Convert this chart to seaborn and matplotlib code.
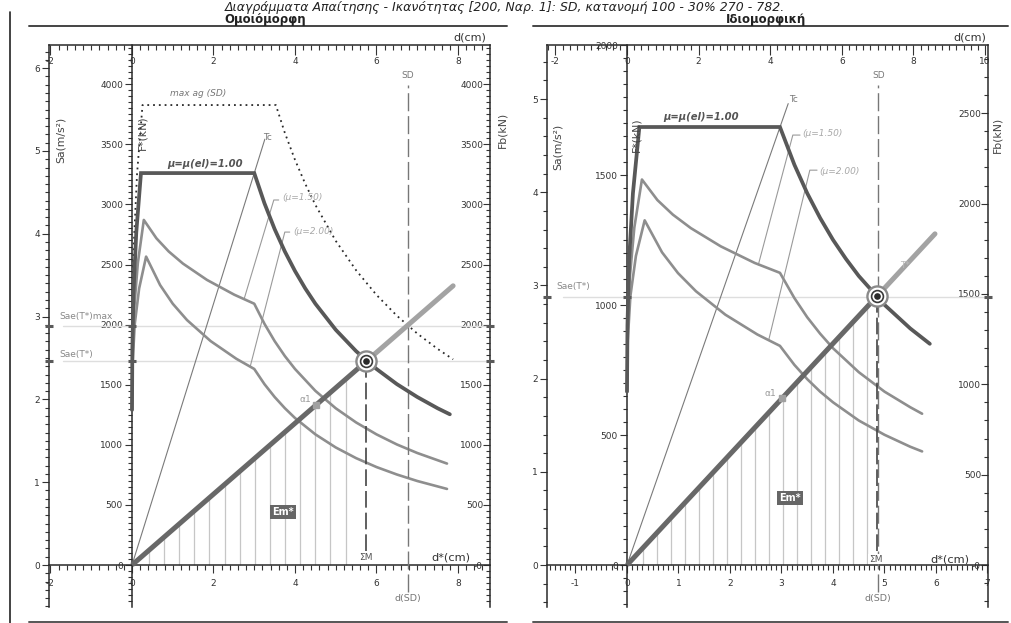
import numpy as np
import matplotlib
matplotlib.use("Agg")
import matplotlib.pyplot as plt
from matplotlib.lines import Line2D
from matplotlib.ticker import MultipleLocator
from matplotlib.transforms import Affine2D
import seaborn as sns

# ---------------------------------------------------------------------------
# Uniform load pattern (Ομοιόμορφη): d* in cm, F* in kN
# ---------------------------------------------------------------------------
uni_gamma = 1.0            # Γ  (d = Γ·d*, Fb = Γ·F*)
uni_mstar = 689.0          # m* in t  (Sa = F*/m*)
uni_el_d = [0.0, 0.008, 0.038, 0.105, 0.22, 3.0, 3.25, 3.5, 3.75, 4.0, 4.25, 4.5,
            5.0, 5.5, 6.0, 6.5, 7.0, 7.5, 7.8]
uni_el_f = [1290, 1783, 2276, 2768, 3261, 3261, 3010, 2795, 2609, 2446, 2302, 2174,
            1957, 1779, 1631, 1505, 1398, 1304, 1254]
uni_mu15_d = [0.0, 0.011, 0.053, 0.143, 0.29, 0.6, 0.9, 1.25, 1.84, 2.51, 3.0, 3.25,
              3.5, 3.75, 4.0, 4.5, 5.0, 5.5, 6.0, 6.5, 7.0, 7.73]
uni_mu15_f = [1290, 1724, 2131, 2512, 2871, 2718, 2609, 2508, 2372, 2249, 2174, 2007,
              1863, 1739, 1631, 1449, 1304, 1186, 1087, 1003, 932, 844]
uni_mu20_d = [0.0, 0.014, 0.067, 0.175, 0.346, 0.69, 1.0, 1.35, 1.93, 2.56, 3.0, 3.25,
              3.5, 3.75, 4.0, 4.5, 5.0, 5.5, 6.0, 6.5, 7.0, 7.73]
uni_mu20_f = [1290, 1670, 2004, 2301, 2566, 2329, 2174, 2038, 1863, 1716, 1631, 1505,
              1398, 1305, 1223, 1087, 978, 889, 815, 753, 699, 633]
uni_maxag_d = [0.0, 0.009, 0.045, 0.123, 0.258, 3.53, 3.75, 4.0, 4.25, 4.5, 5.0, 5.5,
               6.0, 6.5, 7.0, 7.5, 7.88]
uni_maxag_f = [1514, 2093, 2672, 3250, 3827, 3827, 3596, 3371, 3173, 2996, 2697, 2452,
               2247, 2074, 1926, 1798, 1711]
uni_cap_d = [0.0, 5.75, 7.88]
uni_cap_f = [0.0, 1695, 2323]
uni_target = (5.75, 1695)
uni_sae = 2.46
uni_sae_max = 2.89
uni_sd = 6.77
uni_tc_d = [0.0, 3.26]
uni_tc_f = [0.0, 3543]
uni_lead15_d = [2.75, 3.48, 3.60]
uni_lead15_f = [2212, 3037, 3037]
uni_lead20_d = [2.90, 3.75, 3.87]
uni_lead20_f = [1650, 2770, 2770]
uni_alpha1 = 4.52
uni_hatch = [0.42, 0.79, 1.16, 1.53, 1.90, 2.27, 2.65, 3.02, 3.39, 3.76, 4.13, 4.50,
             4.87, 5.24]

# ---------------------------------------------------------------------------
# Modal load pattern (Ιδιομορφική)
# ---------------------------------------------------------------------------
mod_gamma = 1.4385
mod_mstar = 358.5
mod_el_d = [0.0, 0.009, 0.042, 0.115, 0.24, 2.97, 3.25, 3.5, 3.75, 4.0, 4.25, 4.5,
            5.0, 5.5, 5.88]
mod_el_f = [667, 922, 1176, 1430, 1685, 1685, 1540, 1430, 1335, 1251, 1178, 1112,
            1001, 910, 851]
mod_mu15_d = [0.0, 0.011, 0.052, 0.142, 0.29, 0.59, 0.89, 1.24, 1.82, 2.48, 2.97,
              3.25, 3.5, 3.75, 4.0, 4.5, 5.0, 5.5, 5.73]
mod_mu15_f = [667, 891, 1101, 1298, 1483, 1404, 1348, 1296, 1226, 1162, 1124,
              1027, 953, 890, 834, 742, 667, 607, 582]
mod_mu20_d = [0.0, 0.014, 0.066, 0.173, 0.343, 0.68, 0.99, 1.34, 1.91, 2.53, 2.97,
              3.25, 3.5, 3.75, 4.0, 4.5, 5.0, 5.5, 5.73]
mod_mu20_f = [667, 863, 1035, 1189, 1326, 1203, 1123, 1053, 963, 887, 843,
              770, 715, 667, 626, 556, 501, 455, 437]
mod_cap_d = [0.0, 4.85, 5.98]
mod_cap_f = [0.0, 1033, 1274]
mod_target = (4.85, 1033)
mod_sae = 2.88
mod_sd = 7.0
mod_tc_d = [0.0, 3.13]
mod_tc_f = [0.0, 1775]
mod_lead15_d = [2.55, 3.22, 3.36]
mod_lead15_f = [1155, 1654, 1654]
mod_lead20_d = [2.75, 3.55, 3.69]
mod_lead20_f = [864, 1519, 1519]
mod_alpha1 = 3.01
mod_hatch = [0.305, 0.577, 0.849, 1.121, 1.393, 1.665, 1.937, 2.209, 2.481, 2.753,
             3.025, 3.297, 3.569, 3.841, 4.113, 4.385, 4.657]

TITLE = ("Διαγράμματα Απαίτησης - Ικανότητας [200, Ναρ. 1]: SD, "
         "κατανομή 100 - 30% 270 - 782.")

# ---------------------------------------------------------------------------
sns.set_theme(style="ticks")
plt.rcParams['font.family'] = ['DejaVu Sans']
plt.rcParams['axes.unicode_minus'] = False

W, H = 1012, 623
fig = plt.figure(figsize=(W / 100, H / 100), dpi=100)
fig.patch.set_facecolor('white')
PX = Affine2D().scale(1 / 100, -1 / 100).translate(0, H / 100) + fig.dpi_scale_trans

AX_COL = '#2a2a2a'
TICK_COL = '#333333'
TICK_FS = 6.5


def ftext(s, x, y, **kw):
    kw.setdefault('ha', 'center')
    kw.setdefault('va', 'center')
    kw.setdefault('fontsize', 6.5)
    kw.setdefault('color', '#333333')
    fig.text(x, y, s, transform=PX, **kw)


def fline(xs, ys, **kw):
    fig.add_artist(Line2D(xs, ys, transform=PX, **kw))


def ticks_in(lo, hi, step):
    start = np.ceil(lo / step - 1e-9) * step
    return [v for v in np.arange(start, hi + 1e-9, step)]


def fmt(v):
    return f"{v:.0f}" if abs(v - round(v)) < 1e-9 else f"{v:g}"


def panel(lay, data):
    x0, x1, yt, yb = lay['x0'], lay['x1'], lay['ytop'], lay['ybot']
    rect = [x0 / W, 1 - yb / H, (x1 - x0) / W, (yb - yt) / H]
    xlim = ((x0 - lay['ox']) / lay['ppc'], (x1 - lay['ox']) / lay['ppc'])
    ylim = ((lay['oy'] - yb) / lay['ppk'], (lay['oy'] - yt) / lay['ppk'] + 0.5)
    g, m = data['gamma'], data['mstar']

    # --- Sa axis (left edge)
    ax_sa = fig.add_axes(rect)
    ax_sa.set_facecolor('none')
    ax_sa.set_xlim(0, 1)
    ax_sa.set_ylim(ylim[0] / m, ylim[1] / m)
    for s in ['top', 'right', 'bottom']:
        ax_sa.spines[s].set_visible(False)
    ax_sa.spines['left'].set_color(AX_COL)
    ax_sa.spines['left'].set_linewidth(1.1)
    ax_sa.set_xticks([])
    ax_sa.yaxis.set_major_locator(MultipleLocator(1))
    ax_sa.yaxis.set_minor_locator(MultipleLocator(lay['sa_minor']))
    ax_sa.tick_params(axis='y', which='both', left=True, right=False, direction='out',
                      colors=TICK_COL, labelsize=TICK_FS, width=0.8)
    ax_sa.tick_params(axis='y', which='major', length=5, pad=1.5)
    ax_sa.tick_params(axis='y', which='minor', length=3)

    # --- Fb axis (right edge)
    ax_fb = fig.add_axes(rect)
    ax_fb.set_facecolor('none')
    ax_fb.set_ylim(ylim[0] * g, ylim[1] * g)
    for s in ['top', 'left', 'bottom']:
        ax_fb.spines[s].set_visible(False)
    ax_fb.spines['right'].set_color(AX_COL)
    ax_fb.spines['right'].set_linewidth(1.1)
    ax_fb.set_xticks([])
    ax_fb.yaxis.tick_right()
    fb_t = ticks_in(0, ylim[1] * g, 500)
    ax_fb.set_yticks(fb_t)
    ax_fb.set_yticklabels([fmt(v) for v in fb_t], ha='right')
    ax_fb.yaxis.set_minor_locator(MultipleLocator(lay['fb_minor']))
    ax_fb.tick_params(axis='y', which='both', right=True, left=False, labelright=True,
                      labelleft=False, direction='in', colors=TICK_COL,
                      labelsize=TICK_FS, width=0.8, pad=-5)
    ax_fb.tick_params(axis='y', which='major', length=5)
    ax_fb.tick_params(axis='y', which='minor', length=3)
    ax_fb.set_ylim(ylim[0] * g, ylim[1] * g)

    # --- top d axis
    ax_top = fig.add_axes(rect)
    ax_top.set_facecolor('none')
    ax_top.set_xlim(xlim[0] * g, xlim[1] * g)
    for s in ['left', 'right', 'bottom']:
        ax_top.spines[s].set_visible(False)
    ax_top.spines['top'].set_color(AX_COL)
    ax_top.spines['top'].set_linewidth(1.1)
    ax_top.set_yticks([])
    ax_top.xaxis.tick_top()
    d_t = ticks_in(xlim[0] * g, xlim[1] * g, 2)
    ax_top.set_xticks(d_t)
    ax_top.set_xticklabels([fmt(v) for v in d_t], va='top')
    ax_top.xaxis.set_minor_locator(MultipleLocator(0.2))
    ax_top.tick_params(axis='x', which='both', top=True, bottom=False, labeltop=True,
                       labelbottom=False, direction='in', colors=TICK_COL,
                       labelsize=TICK_FS, width=0.8, pad=-8.5)
    ax_top.tick_params(axis='x', which='major', length=7)
    ax_top.tick_params(axis='x', which='minor', length=3.5)
    ax_top.set_xlim(xlim[0] * g, xlim[1] * g)

    # --- main F*-d* axes
    ax = fig.add_axes(rect)
    ax.set_facecolor('none')

    d_ = lambda k: np.asarray(data[k + '_d'], float)
    f_ = lambda k: np.asarray(data[k + '_f'], float)

    # hatching under the capacity line (E*m area)
    hx = np.asarray(data['hatch'], float)
    ax.vlines(hx, 0, np.interp(hx, d_('cap'), f_('cap')), colors='#c6c6c6',
              lw=0.9, zorder=1)

    # Sae(T*) levels
    sae_levels = [data['sae']] + ([data['sae_max']] if 'sae_max' in data else [])
    for s in sae_levels:
        ax.axhline(s * m, xmin=lay['sae_xmin'], color='#dedede', lw=1.0, zorder=1)
        ax.plot([xlim[0], 0, xlim[1]], [s * m] * 3, ls='none', marker='_', ms=6,
                mew=2.2, color='#5a5a5a', clip_on=False, zorder=8)

    # period / ductility guide lines
    sns.lineplot(x=d_('tc'), y=f_('tc'), ax=ax, sort=False, estimator=None,
                 color='#7a7a7a', lw=0.8, zorder=2)
    for k in ['lead15', 'lead20']:
        sns.lineplot(x=d_(k), y=f_(k), ax=ax, sort=False, estimator=None,
                     color='#9a9a9a', lw=0.8, zorder=2)

    if 'maxag_d' in data:
        sns.lineplot(x=d_('maxag'), y=f_('maxag'), ax=ax, sort=False, estimator=None,
                     color='#2a2a2a', lw=1.3, linestyle=(0, (1, 2.2)), zorder=3)

    # inelastic spectra
    for k in ['mu20', 'mu15']:
        sns.lineplot(x=d_(k), y=f_(k), ax=ax, sort=False, estimator=None,
                     color='#8e8e8e', lw=1.9, zorder=3, solid_capstyle='round')

    # elastic spectrum
    sns.lineplot(x=d_('el'), y=f_('el'), ax=ax, sort=False, estimator=None,
                 color='#585858', lw=2.7, zorder=4, solid_capstyle='round',
                 solid_joinstyle='miter')

    # SD and ΣM verticals
    sd_star = data['sd'] / g
    ax.vlines(sd_star, (lay['oy'] - 592) / lay['ppk'], (lay['oy'] - 85) / lay['ppk'],
              colors='#777777', lw=1.0, linestyles=[(0, (13, 3.5))], zorder=3,
              clip_on=False)
    td, tf = data['target']
    ax.vlines(td, (lay['oy'] - 551) / lay['ppk'], tf, colors='#444444', lw=1.2,
              linestyles=[(0, (10, 3))], zorder=3)

    # capacity (bilinear) line
    cd, cf = d_('cap'), f_('cap')
    sns.lineplot(x=cd[:2], y=cf[:2], ax=ax, sort=False, estimator=None,
                 color='#686868', lw=3.6, zorder=5, solid_capstyle='butt')
    sns.lineplot(x=cd[1:], y=cf[1:], ax=ax, sort=False, estimator=None,
                 color='#a3a3a3', lw=3.6, zorder=5, solid_capstyle='round')

    # α1 point
    a1 = data['alpha1']
    ax.plot([a1], [np.interp(a1, cd, cf)], 's', ms=5, color='#a0a0a0', zorder=6)

    # performance point
    ax.plot([td], [tf], 'o', ms=14.5, mfc='white', mec='#8a8a8a', mew=1.7, zorder=7)
    ax.plot([td], [tf], 'o', ms=8.5, mfc='white', mec='#3a3a3a', mew=1.2, zorder=7)
    ax.plot([td], [tf], 'o', ms=4.8, mfc='#2a2a2a', mec='none', zorder=7)

    # axes through the origin
    ax.set_xlim(*xlim)
    ax.set_ylim(*ylim)
    ax.set_xlabel('')
    ax.set_ylabel('')
    ax.spines['left'].set_position(('data', 0))
    ax.spines['bottom'].set_position(('data', 0))
    ax.spines['top'].set_visible(False)
    ax.spines['right'].set_visible(False)
    for s in ['left', 'bottom']:
        ax.spines[s].set_color(AX_COL)
        ax.spines[s].set_linewidth(1.1)
        ax.spines[s].set_zorder(2.5)
    ax.xaxis.set_major_locator(MultipleLocator(lay['dstar_major']))
    ax.xaxis.set_minor_locator(MultipleLocator(lay['dstar_minor']))
    ax.yaxis.set_major_locator(MultipleLocator(500))
    ax.yaxis.set_minor_locator(MultipleLocator(50))
    ax.xaxis.set_major_formatter(plt.FuncFormatter(lambda v, p: fmt(v)))
    ax.yaxis.set_major_formatter(plt.FuncFormatter(lambda v, p: fmt(v)))
    ax.tick_params(axis='both', which='both', direction='out', colors=TICK_COL,
                   labelsize=TICK_FS, width=0.8, top=False, right=False)
    ax.tick_params(axis='x', which='major', length=6, pad=4)
    ax.tick_params(axis='x', which='minor', length=3.5)
    ax.tick_params(axis='y', which='major', length=5, pad=1.5)
    ax.tick_params(axis='y', which='minor', length=3)
    return ax


LEFT = dict(x0=49, x1=490, ytop=45, ybot=607, ox=132, oy=565, ppc=40.75, ppk=0.1202,
            sa_minor=0.1, fb_minor=50, dstar_major=2, dstar_minor=0.2, sae_xmin=0.032)
RIGHT = dict(x0=547, x1=988, ytop=45, ybot=607, ox=627, oy=565, ppc=51.5, ppk=0.26,
             sa_minor=0.2, fb_minor=100, dstar_major=1, dstar_minor=0.1, sae_xmin=0.036)

uni = dict(gamma=uni_gamma, mstar=uni_mstar, el_d=uni_el_d, el_f=uni_el_f,
           mu15_d=uni_mu15_d, mu15_f=uni_mu15_f, mu20_d=uni_mu20_d, mu20_f=uni_mu20_f,
           maxag_d=uni_maxag_d, maxag_f=uni_maxag_f, cap_d=uni_cap_d, cap_f=uni_cap_f,
           target=uni_target, sae=uni_sae, sae_max=uni_sae_max, sd=uni_sd,
           tc_d=uni_tc_d, tc_f=uni_tc_f, lead15_d=uni_lead15_d, lead15_f=uni_lead15_f,
           lead20_d=uni_lead20_d, lead20_f=uni_lead20_f, alpha1=uni_alpha1,
           hatch=uni_hatch)
mod = dict(gamma=mod_gamma, mstar=mod_mstar, el_d=mod_el_d, el_f=mod_el_f,
           mu15_d=mod_mu15_d, mu15_f=mod_mu15_f, mu20_d=mod_mu20_d, mu20_f=mod_mu20_f,
           cap_d=mod_cap_d, cap_f=mod_cap_f, target=mod_target, sae=mod_sae,
           sd=mod_sd, tc_d=mod_tc_d, tc_f=mod_tc_f, lead15_d=mod_lead15_d,
           lead15_f=mod_lead15_f, lead20_d=mod_lead20_d, lead20_f=mod_lead20_f,
           alpha1=mod_alpha1, hatch=mod_hatch)

panel(LEFT, uni)
panel(RIGHT, mod)

# ---------------------------------------------------------------------------
# frame, headers and annotations
# ---------------------------------------------------------------------------
ftext(TITLE, 505, 1, fontsize=9, style='italic', color='#222222', va='top')
fline([10, 10], [12, 623], color='#222222', lw=1.2)
for xa, xb in [(29, 507), (533, 1008)]:
    fline([xa, xb], [26, 26], color='#444444', lw=1.4)
    fline([xa, xb], [621.5, 621.5], color='#555555', lw=1.4)
ftext("Ομοιόμορφη", 265, 19, fontsize=8.5, fontweight='bold', color='#222222')
ftext("Ιδιομορφική", 766, 19, fontsize=8.5, fontweight='bold', color='#222222')

AXT = dict(fontsize=7.8, color='#444444')
GRY = dict(fontsize=6.5, color='#777777')
LIG = dict(fontsize=6.5, color='#a8a8a8', style='italic', ha='left')
EM = dict(fontsize=7, color='white', fontweight='bold',
          bbox=dict(boxstyle='square,pad=0.18', fc='#666666', ec='none'))
SIGMA = dict(fontsize=6.5, color='#555555',
             bbox=dict(boxstyle='square,pad=0.1', fc='white', ec='none'))

# left panel
ftext("d(cm)", 470, 37, fontsize=8)
ftext("Sa(m/s²)", 61, 140, rotation=90, **AXT)
ftext("F*(kN)", 142, 133, rotation=90, **AXT)
ftext("Fb(kN)", 502, 130, rotation=90, **AXT)
ftext("max ag (SD)", 198, 94, fontsize=6.5, color='#777777', style='italic')
ftext("μ=μ(el)=1.00", 205, 164, fontsize=7.2, color='#555555', style='italic',
      fontweight='bold')
ftext("Tc", 268, 138, **GRY)
ftext("(μ=1.50)", 282, 198, **LIG)
ftext("(μ=2.00)", 293, 231, **LIG)
ftext("SD", 408, 76, **GRY)
ftext("Sae(T*)max", 59, 317, fontsize=6.5, color='#888888', ha='left')
ftext("Sae(T*)", 59, 354, fontsize=6.5, color='#888888', ha='left')
ftext("α1", 305, 399, fontsize=6.5, color='#999999')
ftext("Em*", 283, 512, **EM)
ftext("ΣM", 366, 558, **SIGMA)
ftext("d*(cm)", 451, 558, fontsize=8.2)
ftext("d(SD)", 408, 598, fontsize=6.8, color='#777777')

# right panel
ftext("d(cm)", 970, 37, fontsize=8)
ftext("Sa(m/s²)", 558, 147, rotation=90, **AXT)
ftext("F*(kN)", 636, 135, rotation=90, **AXT)
ftext("Fb(kN)", 997, 135, rotation=90, **AXT)
ftext("μ=μ(el)=1.00", 701, 117, fontsize=7.2, color='#555555', style='italic',
      fontweight='bold')
ftext("Tc", 794, 99, **GRY)
ftext("(μ=1.50)", 802, 134, **LIG)
ftext("(μ=2.00)", 819, 171, **LIG)
ftext("SD", 879, 76, **GRY)
ftext("Sae(T*)", 556, 287, fontsize=6.5, color='#888888', ha='left')
ftext("α1", 770, 393, fontsize=6.5, color='#999999')
ftext("T*", 905, 266, fontsize=6.5, color='#bbbbbb')
ftext("Em*", 790, 498, **EM)
ftext("ΣM", 876, 559, **SIGMA)
ftext("d*(cm)", 950, 559, fontsize=8.2)
ftext("d(SD)", 878, 599, fontsize=6.8, color='#777777')

fig.savefig("out.png", dpi=100, facecolor='white')
